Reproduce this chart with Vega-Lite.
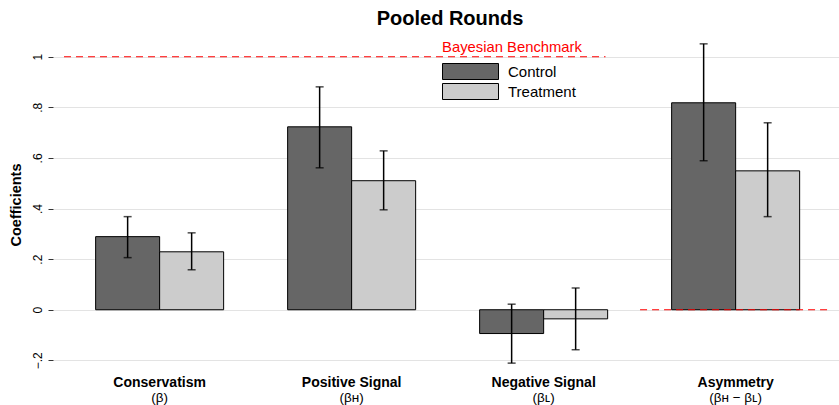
{
  "$schema": "https://vega.github.io/schema/vega-lite/v6.json",
  "width": 786,
  "height": 337,
  "autosize": {"type": "none"},
  "padding": {"left": 53, "top": 36, "right": 0, "bottom": 32},
  "background": "white",
  "config": {"font": "Liberation Sans", "view": {"stroke": null}},
  "title": {"text": "Pooled Rounds", "fontSize": 20, "fontWeight": "bold", "color": "black", "anchor": "middle", "offset": 7, "dx": 4},
  "datasets": {
    "coefs": [
      {"cat": "Conservatism", "group": "Control", "coef": 0.289, "lo": 0.206, "hi": 0.368},
      {"cat": "Conservatism", "group": "Treatment", "coef": 0.229, "lo": 0.158, "hi": 0.304},
      {"cat": "Positive Signal", "group": "Control", "coef": 0.723, "lo": 0.561, "hi": 0.881},
      {"cat": "Positive Signal", "group": "Treatment", "coef": 0.510, "lo": 0.395, "hi": 0.628},
      {"cat": "Negative Signal", "group": "Control", "coef": -0.094, "lo": -0.211, "hi": 0.022},
      {"cat": "Negative Signal", "group": "Treatment", "coef": -0.036, "lo": -0.158, "hi": 0.086},
      {"cat": "Asymmetry", "group": "Control", "coef": 0.818, "lo": 0.589, "hi": 1.051},
      {"cat": "Asymmetry", "group": "Treatment", "coef": 0.549, "lo": 0.368, "hi": 0.739}
    ],
    "bench": [
      {"x": 0.5, "x2": 3.32, "y": 1},
      {"x": 3.5, "x2": 4.5, "y": 0}
    ],
    "benchlabel": [
      {"x": 2.833, "y": 1, "label": "Bayesian Benchmark"}
    ]
  },
  "data": {"name": "coefs"},
  "layer": [
    {
      "mark": {"type": "bar", "stroke": "black", "strokeWidth": 1},
      "encoding": {
        "x": {"field": "cat", "type": "nominal", "sort": ["Conservatism", "Positive Signal", "Negative Signal", "Asymmetry"],
          "scale": {"paddingInner": 0.3333, "paddingOuter": 0.2135, "align": 0.52},
          "axis": {"orient": "bottom", "title": null, "domain": false, "ticks": false, "labelAngle": 0, "labelFontSize": 14, "labelFontWeight": "bold", "labelColor": "black", "labelPadding": 2, "labelBaseline": "top"}},
        "xOffset": {"field": "group", "type": "nominal", "sort": ["Control", "Treatment"], "scale": {"paddingInner": 0, "paddingOuter": 0}},
        "y": {"field": "coef", "type": "quantitative", "title": "Coefficients",
          "scale": {"domain": [-0.25, 1.082], "nice": false, "zero": false},
          "axis": {"values": [-0.2, 0, 0.2, 0.4, 0.6, 0.8, 1], "domain": false, "tickSize": 5, "tickColor": "#333333", "gridColor": "#e3e3e3", "gridWidth": 1.2,
            "labelAngle": -90, "labelAlign": "center", "labelBaseline": "bottom", "labelFontSize": 12, "labelColor": "black", "labelPadding": 4,
            "labelExpr": "datum.value == 0 ? '0' : datum.value == 1 ? '1' : (datum.value < 0 ? '−' : '') + '.' + format(abs(datum.value) * 10, '.0f')",
            "titleFontSize": 14.5, "titleFontWeight": "bold", "titleColor": "black", "titlePadding": 8}},
        "fill": {"field": "group", "type": "nominal", "scale": {"domain": ["Control", "Treatment"], "range": ["#666666", "#cccccc"]},
          "legend": {"title": null, "orient": "none", "legendX": 389, "legendY": 27, "padding": 0,
            "symbolType": "M-1,-1H6V1H-1Z", "symbolSize": 256, "symbolStrokeColor": "black", "symbolStrokeWidth": 1, "symbolOpacity": 1,
            "labelFontSize": 15, "labelColor": "black", "labelOffset": 49, "rowPadding": -1}}
      }
    },
    {
      "mark": {"type": "rule", "color": "black", "strokeWidth": 1.5},
      "encoding": {
        "x": {"field": "cat", "type": "nominal", "sort": ["Conservatism", "Positive Signal", "Negative Signal", "Asymmetry"],
          "scale": {"paddingInner": 0.3333, "paddingOuter": 0.2135, "align": 0.52},
          "axis": {"orient": "bottom", "title": null, "domain": false, "ticks": false, "grid": false, "labelAngle": 0, "labelFontSize": 13.5, "labelColor": "black", "labelPadding": 17, "labelBaseline": "top",
            "labelExpr": "datum.label == 'Conservatism' ? '(β)' : datum.label == 'Positive Signal' ? '(βʜ)' : datum.label == 'Negative Signal' ? '(βʟ)' : '(βʜ − βʟ)'"}},
        "xOffset": {"field": "group", "type": "nominal", "sort": ["Control", "Treatment"], "scale": {"paddingInner": 0, "paddingOuter": 0}},
        "y": {"field": "lo", "type": "quantitative", "title": "Coefficients"},
        "y2": {"field": "hi"}
      }
    },
    {
      "mark": {"type": "tick", "color": "black", "size": 8, "thickness": 1.5},
      "encoding": {
        "x": {"field": "cat", "type": "nominal", "sort": ["Conservatism", "Positive Signal", "Negative Signal", "Asymmetry"],
          "scale": {"paddingInner": 0.3333, "paddingOuter": 0.2135, "align": 0.52}, "axis": null},
        "xOffset": {"field": "group", "type": "nominal", "sort": ["Control", "Treatment"], "scale": {"paddingInner": 0, "paddingOuter": 0}},
        "y": {"field": "lo", "type": "quantitative", "title": "Coefficients"}
      }
    },
    {
      "mark": {"type": "tick", "color": "black", "size": 8, "thickness": 1.5},
      "encoding": {
        "x": {"field": "cat", "type": "nominal", "sort": ["Conservatism", "Positive Signal", "Negative Signal", "Asymmetry"],
          "scale": {"paddingInner": 0.3333, "paddingOuter": 0.2135, "align": 0.52}, "axis": null},
        "xOffset": {"field": "group", "type": "nominal", "sort": ["Control", "Treatment"], "scale": {"paddingInner": 0, "paddingOuter": 0}},
        "y": {"field": "hi", "type": "quantitative", "title": "Coefficients"}
      }
    },
    {
      "data": {"name": "bench"},
      "mark": {"type": "rule", "color": "#ff0000", "strokeWidth": 1.2, "strokeDash": [7, 5]},
      "encoding": {
        "x": {"field": "x", "type": "quantitative", "scale": {"domain": [0.4427, 4.536], "nice": false, "zero": false}, "axis": null},
        "x2": {"field": "x2"},
        "y": {"field": "y", "type": "quantitative", "title": "Coefficients"}
      }
    },
    {
      "data": {"name": "benchlabel"},
      "mark": {"type": "text", "color": "#ff0000", "fontSize": 14.8, "align": "center", "baseline": "alphabetic", "dy": -5},
      "encoding": {
        "x": {"field": "x", "type": "quantitative", "scale": {"domain": [0.4427, 4.536], "nice": false, "zero": false}, "axis": null},
        "y": {"field": "y", "type": "quantitative", "title": "Coefficients"},
        "text": {"field": "label"}
      }
    }
  ],
  "resolve": {"scale": {"x": "independent"}, "axis": {"x": "independent"}}
}
